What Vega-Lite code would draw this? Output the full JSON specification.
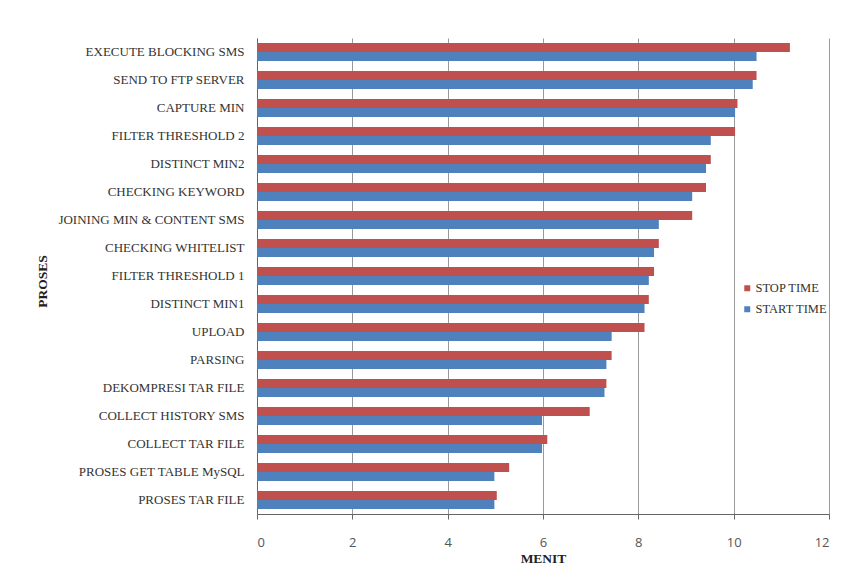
{
  "$schema": "https://vega.github.io/schema/vega-lite/v6.json",
  "autosize": "none",
  "padding": {"left": 257, "top": 38, "right": 34, "bottom": 66},
  "width": 572,
  "height": 476,
  "background": "white",
  "data": {
    "values": [
      {"proses": "EXECUTE BLOCKING SMS", "series": "STOP TIME", "menit": 11.18},
      {"proses": "EXECUTE BLOCKING SMS", "series": "START TIME", "menit": 10.48},
      {"proses": "SEND TO FTP SERVER", "series": "STOP TIME", "menit": 10.48},
      {"proses": "SEND TO FTP SERVER", "series": "START TIME", "menit": 10.4},
      {"proses": "CAPTURE MIN", "series": "STOP TIME", "menit": 10.08},
      {"proses": "CAPTURE MIN", "series": "START TIME", "menit": 10.03},
      {"proses": "FILTER THRESHOLD 2", "series": "STOP TIME", "menit": 10.03},
      {"proses": "FILTER THRESHOLD 2", "series": "START TIME", "menit": 9.52},
      {"proses": "DISTINCT MIN2", "series": "STOP TIME", "menit": 9.52},
      {"proses": "DISTINCT MIN2", "series": "START TIME", "menit": 9.42},
      {"proses": "CHECKING KEYWORD", "series": "STOP TIME", "menit": 9.42},
      {"proses": "CHECKING KEYWORD", "series": "START TIME", "menit": 9.13},
      {"proses": "JOINING MIN & CONTENT SMS", "series": "STOP TIME", "menit": 9.13},
      {"proses": "JOINING MIN & CONTENT SMS", "series": "START TIME", "menit": 8.43},
      {"proses": "CHECKING WHITELIST", "series": "STOP TIME", "menit": 8.43},
      {"proses": "CHECKING WHITELIST", "series": "START TIME", "menit": 8.33},
      {"proses": "FILTER THRESHOLD 1", "series": "STOP TIME", "menit": 8.33},
      {"proses": "FILTER THRESHOLD 1", "series": "START TIME", "menit": 8.22},
      {"proses": "DISTINCT MIN1", "series": "STOP TIME", "menit": 8.22},
      {"proses": "DISTINCT MIN1", "series": "START TIME", "menit": 8.13},
      {"proses": "UPLOAD", "series": "STOP TIME", "menit": 8.13},
      {"proses": "UPLOAD", "series": "START TIME", "menit": 7.44},
      {"proses": "PARSING", "series": "STOP TIME", "menit": 7.44},
      {"proses": "PARSING", "series": "START TIME", "menit": 7.33},
      {"proses": "DEKOMPRESI TAR FILE", "series": "STOP TIME", "menit": 7.33},
      {"proses": "DEKOMPRESI TAR FILE", "series": "START TIME", "menit": 7.29},
      {"proses": "COLLECT HISTORY SMS", "series": "STOP TIME", "menit": 6.98},
      {"proses": "COLLECT HISTORY SMS", "series": "START TIME", "menit": 5.98},
      {"proses": "COLLECT TAR FILE", "series": "STOP TIME", "menit": 6.09},
      {"proses": "COLLECT TAR FILE", "series": "START TIME", "menit": 5.98},
      {"proses": "PROSES GET TABLE MySQL", "series": "STOP TIME", "menit": 5.29},
      {"proses": "PROSES GET TABLE MySQL", "series": "START TIME", "menit": 4.98},
      {"proses": "PROSES TAR FILE", "series": "STOP TIME", "menit": 5.03},
      {"proses": "PROSES TAR FILE", "series": "START TIME", "menit": 4.98}
    ]
  },
  "mark": {"type": "bar"},
  "encoding": {
    "y": {
      "field": "proses",
      "type": "nominal",
      "sort": null,
      "scale": {
        "domain": ["EXECUTE BLOCKING SMS", "SEND TO FTP SERVER", "CAPTURE MIN", "FILTER THRESHOLD 2", "DISTINCT MIN2", "CHECKING KEYWORD", "JOINING MIN & CONTENT SMS", "CHECKING WHITELIST", "FILTER THRESHOLD 1", "DISTINCT MIN1", "UPLOAD", "PARSING", "DEKOMPRESI TAR FILE", "COLLECT HISTORY SMS", "COLLECT TAR FILE", "PROSES GET TABLE MySQL", "PROSES TAR FILE"],
        "paddingInner": 0.35,
        "paddingOuter": 0.175
      },
      "axis": {
        "title": "PROSES",
        "titleFont": "Liberation Serif",
        "titleFontSize": 13.5,
        "titleFontWeight": "bold",
        "titleColor": "#222",
        "titleX": -215,
        "titleY": 243,
        "titleAngle": -90,
        "titleAlign": "center",
        "titleBaseline": "middle",
        "labelFont": "Liberation Serif",
        "labelFontSize": 13,
        "labelColor": "#333",
        "labelPadding": 13,
        "labelLimit": 300,
        "ticks": false,
        "domainColor": "#666",
        "grid": false
      }
    },
    "yOffset": {
      "field": "series",
      "type": "nominal",
      "scale": {"domain": ["STOP TIME", "START TIME"]}
    },
    "x": {
      "field": "menit",
      "type": "quantitative",
      "scale": {"domain": [0, 12], "nice": false},
      "axis": {
        "title": "MENIT",
        "titleFont": "Liberation Serif",
        "titleFontSize": 13.5,
        "titleFontWeight": "bold",
        "titleColor": "#222",
        "titleX": 286,
        "titleY": 44,
        "titleBaseline": "middle",
        "values": [0, 2, 4, 6, 8, 10, 12],
        "labelFont": "Open Sans",
        "labelFontSize": 13,
        "labelColor": "#555",
        "labelPadding": 17,
        "tickSize": 5,
        "tickColor": "#666",
        "domainColor": "#666",
        "grid": true,
        "gridColor": "#9a9a9a",
        "gridWidth": 1
      }
    },
    "color": {
      "field": "series",
      "type": "nominal",
      "scale": {"domain": ["STOP TIME", "START TIME"], "range": ["#C0504D", "#4F81BD"]},
      "legend": {
        "title": null,
        "orient": "none",
        "legendX": 484,
        "legendY": 244,
        "symbolType": "square",
        "symbolSize": 36,
        "symbolStrokeWidth": 0,
        "labelFont": "Liberation Serif",
        "labelFontSize": 12.5,
        "labelColor": "#333",
        "labelOffset": 2,
        "rowPadding": 8
      }
    }
  },
  "config": {"view": {"stroke": null}}
}
